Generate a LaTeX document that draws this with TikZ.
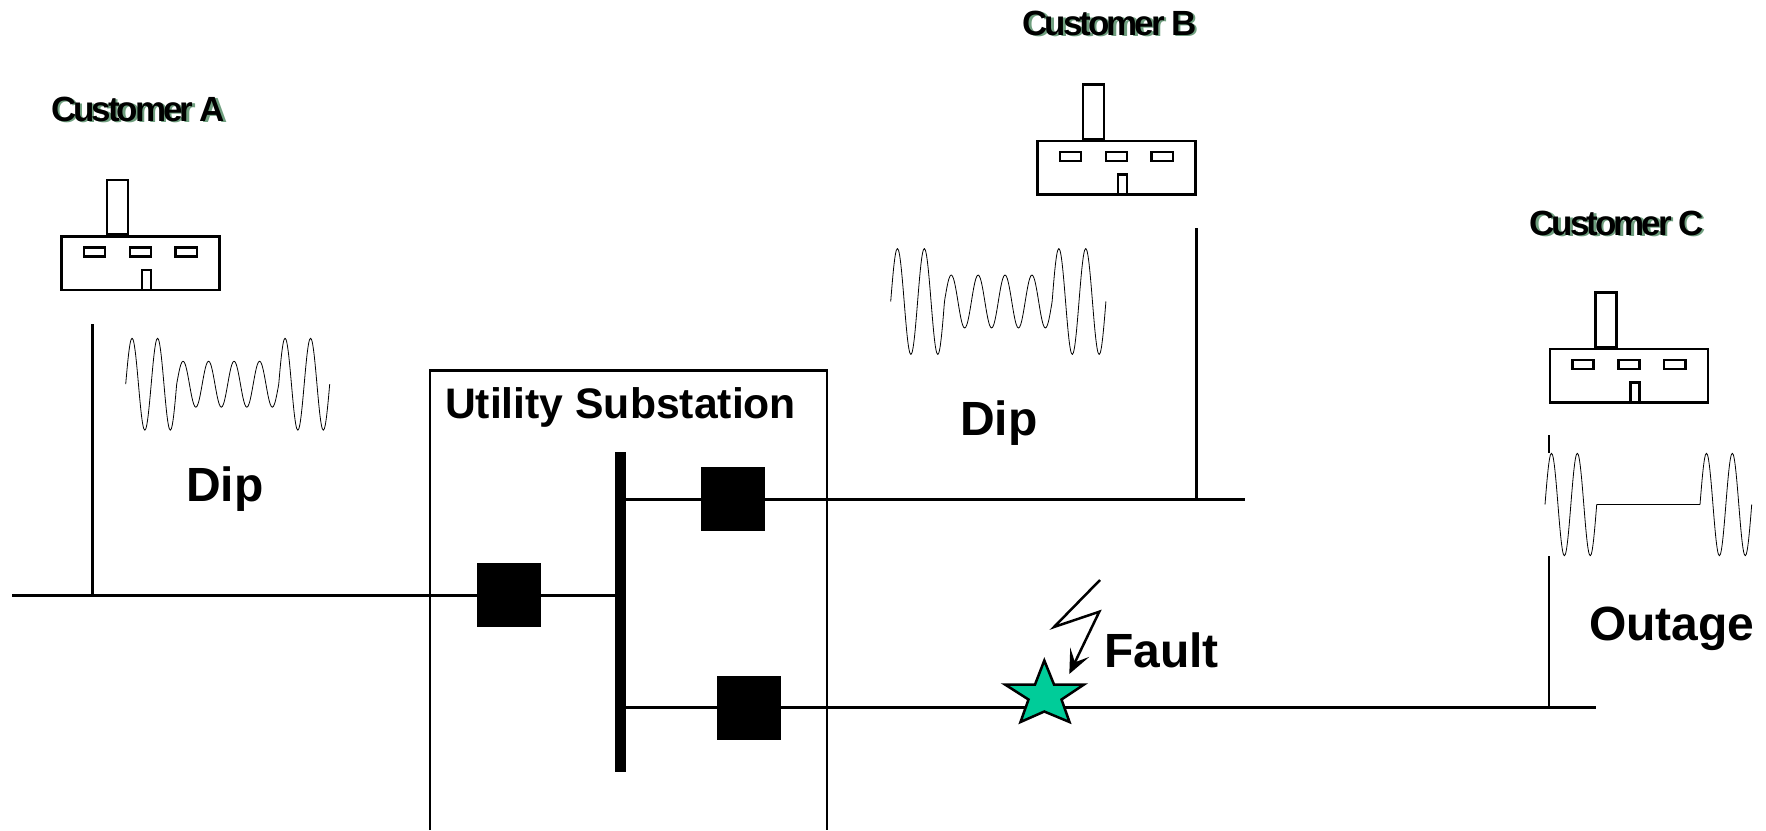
\documentclass[tikz,border=0pt]{standalone}
\usepackage{fontspec}
\setmainfont{Liberation Sans}
\newfontfamily\custfont[LetterSpace=-8.6]{Liberation Sans}
\usetikzlibrary{arrows.meta}
\definecolor{custshadow}{HTML}{6F9F7F}
\definecolor{faultgreen}{HTML}{00CC99}
\newcommand{\custlabel}[1]{\makebox[0pt][l]{\raisebox{-1pt}{\hspace{2.5pt}\textcolor{custshadow}{#1}}}#1}
% dip waveform: x0, ymid, period, amplitude
\newcommand{\dipwave}[4]{\draw[wave] plot[domain=0:2880,samples=193,smooth] ({#1+\x/360*#3},{#2-(((\x<720)||(\x>2160))?#4:#4/2)*sin(\x)});}
\tikzset{
  wire/.style={line width=2.5pt,line cap=butt},
  wave/.style={line width=0.8pt,line join=round},
  breaker/.style={fill=black,draw=none,minimum size=64pt,inner sep=0pt,outer sep=0pt},
  bus/.style={fill=black,draw=none,minimum width=10.5pt,minimum height=320pt,inner sep=0pt,outer sep=0pt},
  biglabel/.style={anchor=base west,inner sep=0pt,outer sep=0pt,font=\fontsize{48}{50}\selectfont\bfseries},
  subslabel/.style={anchor=base west,inner sep=0pt,outer sep=0pt,font=\fontsize{42.7}{50}\selectfont\bfseries},
  custlabelstyle/.style={anchor=base west,inner sep=0pt,outer sep=0pt,font=\fontsize{35}{40}\custfont\bfseries},
  fstroke/.style={draw=black,line width=2.8pt,fill=white,line join=miter},
  factory/.pic={
    \draw[fstroke] (0.5,0.5) rectangle (158.5,54);
    \draw[fstroke] (46,-56) rectangle (67,-1.2);
    \draw[fstroke] (23,11.5) rectangle (44,20.5);
    \draw[fstroke] (69,11.5) rectangle (90,20.5);
    \draw[fstroke] (114.5,11.5) rectangle (136,20.5);
    \draw[fstroke] (81,34) rectangle (90,54);
  }
}
\begin{document}
\begin{tikzpicture}[x=1pt,y=-1pt]
\useasboundingbox (0,0) rectangle (1766,830);
% substation outline, open at the bottom edge
\draw[wire] (430,830) -- (430,370.5) -- (827,370.5) -- (827,830);

% nodes on the network
\node[breaker] (brkIn) at (508.6,595.3) {};
\node[breaker] (brkB) at (732.6,499.3) {};
\node[breaker] (brkC) at (748.6,707.5) {};
\node[bus] (busbar) at (620.3,611.5) {};
\coordinate (feed) at (12,595.3);
\coordinate (tapA) at (92.5,595.3);
\coordinate (topA) at (92.5,324);
\coordinate (endB) at (1245,499.3);
\coordinate (tapB) at (1196.5,499.3);
\coordinate (topB) at (1196.5,228);
\coordinate (endC) at (1596,707.5);
\coordinate (tapC) at (1549,707.5);
\coordinate (midC) at (1549,556);
\coordinate (midCup) at (1549,453);
\coordinate (topC) at (1549,435);

% connectors
\draw[wire] (feed) -- (brkIn.west);
\draw[wire] (brkIn.east) -- (busbar.west |- brkIn.east);
\draw[wire] (busbar.east |- brkB.west) -- (brkB.west);
\draw[wire] (brkB.east) -- (endB);
\draw[wire] (busbar.east |- brkC.west) -- (brkC.west);
\draw[wire] (brkC.east) -- (endC);
\draw[wire] (tapA) -- (topA);
\draw[wire] (tapB) -- (topB);
\draw[wire] (tapC) -- (midC);
\draw[wire] (midCup) -- (topC);

% fault star
\draw[draw=black,line width=2.5pt,fill=faultgreen,line join=miter,miter limit=4]
  (1044.3,660.5) -- (1054,684.5) -- (1084,684.5) -- (1061.5,699.5) -- (1069.5,722)
  -- (1044.3,711.5) -- (1020.5,722) -- (1028.5,699.5) -- (1005,684.5) -- (1035,684.5) -- cycle;
\coordinate (bolt0) at (1100,580);
\coordinate (bolt1) at (1054,627);
\coordinate (bolt2) at (1099.3,611.7);
\coordinate (bolt3) at (1069.3,674);
\draw[line width=2.5pt,line join=miter,-{Stealth[length=24pt,width=21pt,inset=11pt]}] (bolt0) -- (bolt1) -- (bolt2) -- (bolt3);

% factories
\pic at (61,236) {factory};
\pic at (1037,140.5) {factory};
\pic at (1549.5,348.5) {factory};

% waveforms
\dipwave{125.7}{384.2}{25.5}{46}
\dipwave{890.7}{301.5}{26.9}{53}
\draw[wave] plot[domain=0:720,samples=49,smooth] ({1545+\x/360*25.85},{504.5-51.3*sin(\x)}) -- plot[domain=0:720,samples=49,smooth] ({1700+\x/360*25.85},{504.5-51.3*sin(\x)});

% labels
\node[custlabelstyle] (custA) at (51,121.7) {\custlabel{Customer A}};
\node[custlabelstyle] (custB) at (1022.5,35.7) {\custlabel{Customer B}};
\node[custlabelstyle] (custC) at (1529.5,235) {\custlabel{Customer C}};
\node[subslabel] (subs) at (445,418.3) {Utility Substation};
\node[biglabel] (dipA) at (186,501) {Dip};
\node[biglabel] (dipB) at (960,435) {Dip};
\node[biglabel] (faultlbl) at (1104,667.3) {Fault};
\node[biglabel] (outage) at (1589,640) {Outage};
\end{tikzpicture}
\end{document}
